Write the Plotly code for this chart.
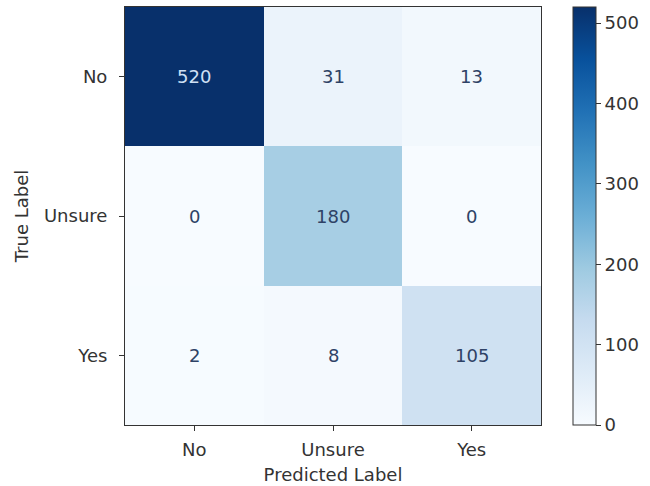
import plotly.graph_objects as go

labels = ["No", "Unsure", "Yes"]
matrix = [
    [520, 31, 13],
    [0, 180, 0],
    [2, 8, 105],
]
cbar_ticks = [0, 100, 200, 300, 400, 500]

blues = ["#f7fbff", "#deebf7", "#c6dbef", "#9ecae1", "#6baed6",
         "#4292c6", "#2171b5", "#08519c", "#08306b"]
scale = [[i / (len(blues) - 1), c] for i, c in enumerate(blues)]

font_family = "DejaVu Sans, Open Sans, sans-serif"
fs = 18
vmax = max(max(r) for r in matrix)

fig = go.Figure(go.Heatmap(
    z=matrix, x=labels, y=labels,
    colorscale=scale, zmin=0, zmax=vmax,
    showscale=True,
    colorbar=dict(
        x=1.077, xanchor="left", y=0.5, yanchor="middle",
        len=1.0, lenmode="fraction", thickness=23,
        outlinecolor="#333", outlinewidth=1,
        tickvals=cbar_ticks, ticks="outside", ticklen=5, tickcolor="#333",
        tickfont=dict(family=font_family, size=fs, color="#333"),
        xpad=0, ypad=0,
    ),
    hoverinfo="skip",
))

annotations = []
thresh = vmax / 2
for i, row in enumerate(matrix):
    for j, v in enumerate(row):
        annotations.append(dict(
            x=labels[j], y=labels[i], text=str(v), showarrow=False,
            font=dict(family=font_family, size=fs,
                      color="#cfe0f5" if v > thresh else "#2e4266"),
        ))

fig.update_layout(
    width=650, height=486,
    margin=dict(l=125, r=109, t=7, b=61),
    paper_bgcolor="white", plot_bgcolor="white",
    annotations=annotations,
    font=dict(family=font_family, size=fs, color="#333"),
)
fig.update_xaxes(
    showline=True, mirror=True, linecolor="#333", linewidth=1,
    ticks="outside", ticklen=5, tickcolor="#333", ticklabelstandoff=3,
    showgrid=False, zeroline=False,
    title=dict(text="Predicted Label", standoff=9,
               font=dict(family=font_family, size=fs, color="#333")),
    tickfont=dict(family=font_family, size=fs, color="#333"),
    automargin=False,
)
fig.update_yaxes(
    showline=True, mirror=True, linecolor="#333", linewidth=1,
    ticks="outside", ticklen=5, tickcolor="#333", ticklabelstandoff=8,
    showgrid=False, zeroline=False, autorange="reversed",
    title=dict(text="True Label", standoff=10,
               font=dict(family=font_family, size=fs, color="#333")),
    tickfont=dict(family=font_family, size=fs, color="#333"),
    automargin=False,
)

fig.write_html("out.html")
